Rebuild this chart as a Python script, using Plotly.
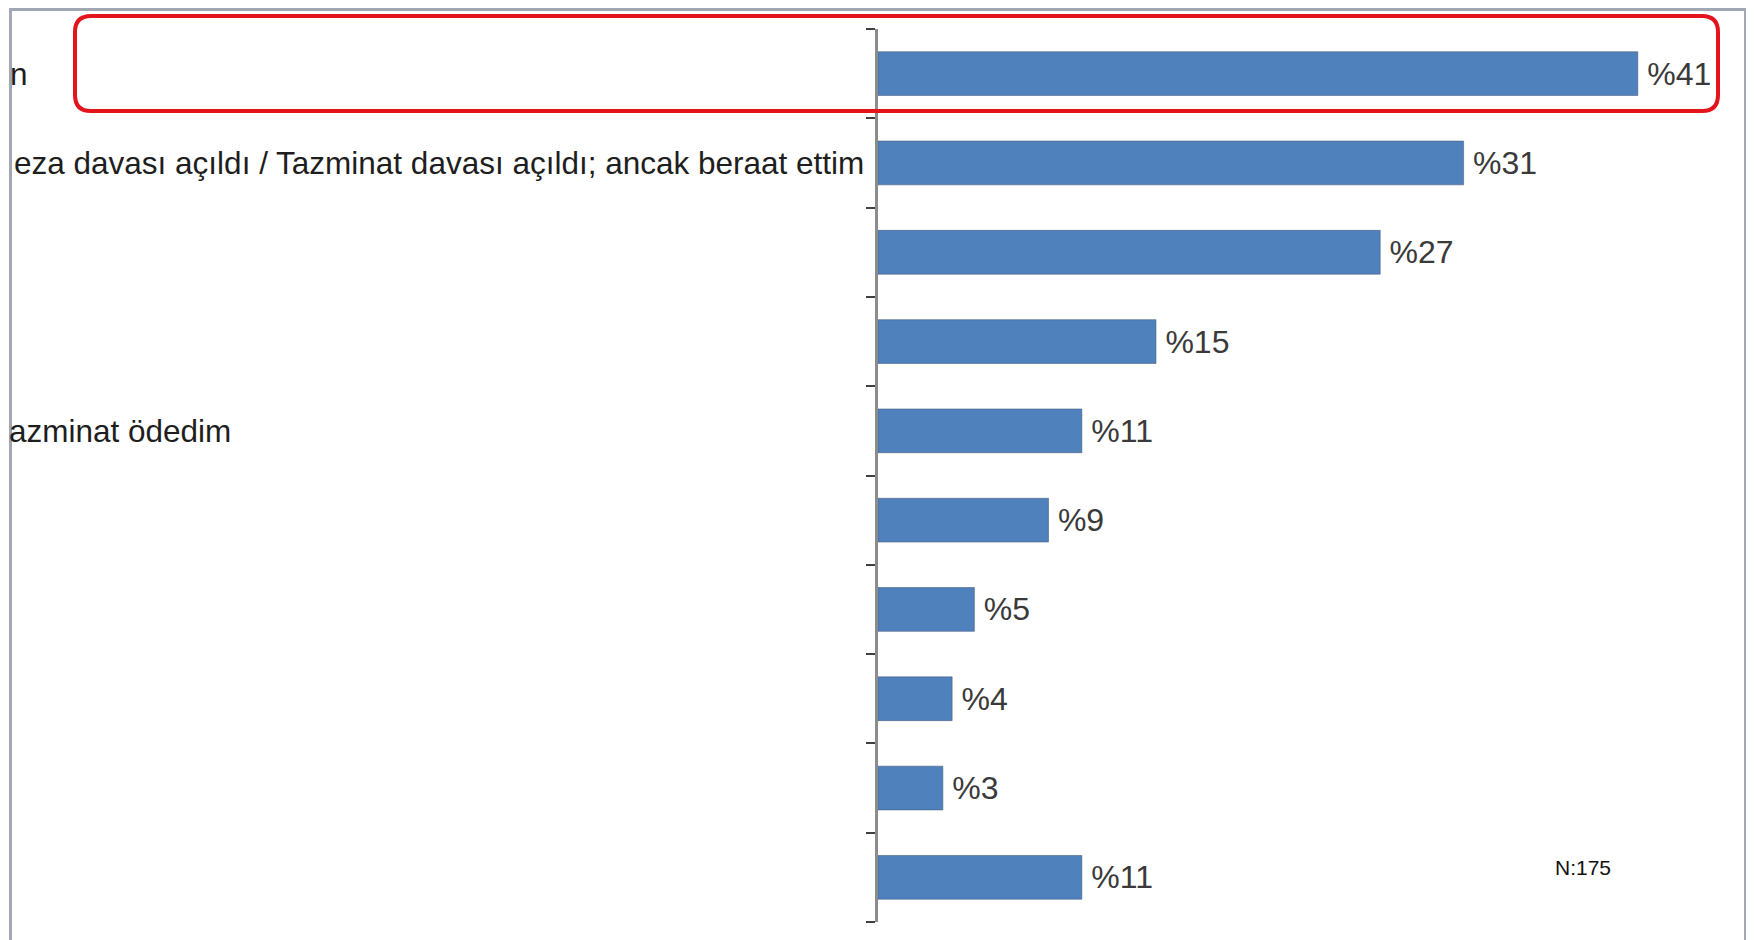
"""
Yatay çubuk grafik (sol taraftaki etiketler kırpılmış görünüm)
"""
import plotly.graph_objects as go

# 数据 / veriler
labels = [
    "n",
    "eza davası açıldı / Tazminat davası açıldı; ancak beraat ettim",
    "",
    "",
    "azminat ödedim",
    "",
    "",
    "",
    "",
    "",
]
# çubuk uzunlukları; etiketler grafikteki gibi yuvarlanmış
values = [41, 31.6, 27.1, 15, 11, 9.2, 5.2, 4, 3.5, 11]
value_texts = ["%41", "%31", "%27", "%15", "%11", "%9", "%5", "%4", "%3", "%11"]
note_text = "N:175"

# görünen (kırpılmış) etiket metninin bittiği yer, ekran pikseli
label_ends = [30, 866, None, None, 233, None, None, None, None, None]

# sayfa: gövde kenar boşluğu 8px, div 1746x932
OFF = 8
W, H = 1746, 932
L, R, T, B = 870, 5, 21, 18
PW, PH = W - L - R, H - T - B
XMAX = 47

FONT = "Liberation Sans, Arial, sans-serif"


def px(x):
    # ekran pikseli -> paper koordinatı
    return (x - OFF - L) / PW


def py(y):
    return 1 - (y - OFF - T) / PH


rows = list(range(len(values)))

fig = go.Figure(go.Bar(
    x=values, y=rows, orientation="h",
    marker=dict(color="#4F81BD", line=dict(color="rgba(70,90,120,0.55)", width=1)),
    width=0.49,
    text=["\u2009" + t for t in value_texts],
    textposition="outside",
    textfont=dict(family=FONT, size=32, color="#3a3a3a"),
    constraintext="none",
    cliponaxis=False,
    hoverinfo="skip",
))

# kırpılmış kategori etiketleri
annotations = []
for i, (lab, end) in enumerate(zip(labels, label_ends)):
    if not lab:
        continue
    annotations.append(dict(
        text=lab, x=px(end), xref="paper", y=i, yref="y",
        xanchor="right", yanchor="middle", showarrow=False,
        font=dict(family=FONT, size=31.5, color="#1e1e1e"),
    ))

annotations.append(dict(
    text=note_text, x=px(1583), y=py(867), xref="paper", yref="paper",
    xanchor="center", yanchor="middle", showarrow=False,
    font=dict(family=FONT, size=21, color="#111111"),
))

# kırmızı yuvarlak köşeli vurgu kutusu
x0, x1, y0, y1, r = 75, 1718, 16, 111, 16
box_path = (
    f"M {px(x0 + r)},{py(y0)} L {px(x1 - r)},{py(y0)} "
    f"Q {px(x1)},{py(y0)} {px(x1)},{py(y0 + r)} "
    f"L {px(x1)},{py(y1 - r)} Q {px(x1)},{py(y1)} {px(x1 - r)},{py(y1)} "
    f"L {px(x0 + r)},{py(y1)} Q {px(x0)},{py(y1)} {px(x0)},{py(y1 - r)} "
    f"L {px(x0)},{py(y0 + r)} Q {px(x0)},{py(y0)} {px(x0 + r)},{py(y0)} Z"
)

frame = "#a2a7b4"
shapes = [
    # çerçeve (sol, üst, sağ)
    dict(type="line", xref="paper", yref="paper", x0=px(10.5), x1=px(10.5),
         y0=py(OFF), y1=py(OFF + H), line=dict(color=frame, width=3)),
    dict(type="line", xref="paper", yref="paper", x0=px(10), x1=px(1746),
         y0=py(OFF + 1.5), y1=py(OFF + 1.5), line=dict(color=frame, width=3)),
    dict(type="line", xref="paper", yref="paper", x0=px(1745.5), x1=px(1745.5),
         y0=py(OFF), y1=py(OFF + H), line=dict(color=frame, width=3)),
    dict(type="path", xref="paper", yref="paper", path=box_path,
         line=dict(color="#e3141b", width=4), layer="above"),
]

fig.update_layout(
    width=W, height=H,
    margin=dict(l=L, r=R, t=T, b=B, pad=0),
    paper_bgcolor="white", plot_bgcolor="white",
    showlegend=False,
    xaxis=dict(range=[0, XMAX], visible=False, fixedrange=True),
    yaxis=dict(
        range=[len(values) - 0.5, -0.5],
        showline=True, linecolor="#8c8c8c", linewidth=3,
        ticks="outside", tickvals=[i - 0.5 for i in range(len(values) + 1)],
        ticklen=9, tickwidth=2, tickcolor="#404040",
        showticklabels=False, showgrid=False, zeroline=False, fixedrange=True,
    ),
    annotations=annotations,
    shapes=shapes,
)

fig.write_html("out.html")
